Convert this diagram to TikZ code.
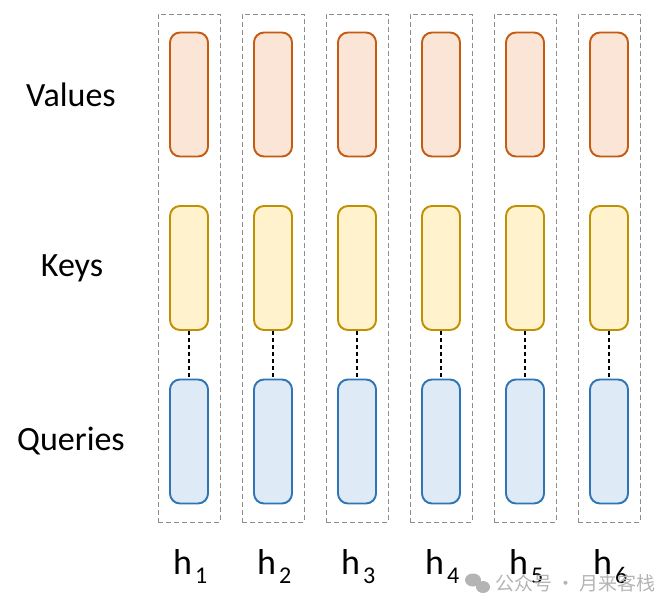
\documentclass[tikz,border=0pt]{standalone}
\usepackage{fontspec}
\setmainfont{Carlito}
\newfontfamily\cjk{Noto Sans CJK SC}
\definecolor{vfill}{HTML}{FBE5D6}
\definecolor{vdraw}{HTML}{C55A11}
\definecolor{kfill}{HTML}{FFF2CC}
\definecolor{kdraw}{HTML}{BF9000}
\definecolor{qfill}{HTML}{DEEBF7}
\definecolor{qdraw}{HTML}{2E75B6}
\definecolor{frame}{HTML}{8C8C8C}
\definecolor{wm}{HTML}{B4B4B4}
\tikzset{
  cell/.style={rectangle, rounded corners=10pt, minimum width=38pt, minimum height=124pt, line width=1.9pt, inner sep=0pt},
  vcell/.style={cell, fill=vfill, draw=vdraw},
  kcell/.style={cell, fill=kfill, draw=kdraw},
  qcell/.style={cell, fill=qfill, draw=qdraw},
  headbox/.style={rectangle, draw=frame, dashed, dash pattern=on 5pt off 3pt, line width=0.9pt, minimum width=62pt, minimum height=508pt, inner sep=0pt},
  rowlabel/.style={font=\fontsize{34}{38}\selectfont},
  hlabel/.style={font=\fontsize{36}{40}\selectfont, inner sep=0pt, anchor=base west},
  sublabel/.style={font=\fontsize{24}{28}\selectfont, inner sep=0pt, anchor=base west},
  link/.style={draw=black, dashed, dash pattern=on 4pt off 3pt, line width=1.3pt}
}
\begin{document}
\begin{tikzpicture}[x=1pt,y=-1pt]
\useasboundingbox (0,0) rectangle (667,609);
\foreach \i in {1,...,6} {
  \pgfmathsetmacro{\cx}{189+84*(\i-1)}
  \node[headbox] (box\i) at (\cx,268) {};
  \node[vcell] (v\i) at (\cx,94.5) {};
  \node[kcell] (k\i) at (\cx,268) {};
  \node[qcell] (q\i) at (\cx,441.5) {};
  \draw[link] (k\i.south) -- (q\i.north);
  \pgfmathsetmacro{\hx}{173+84*(\i-1)}
  \node[hlabel] (h\i) at (\hx,574) {h};
  \node[sublabel] (s\i) at (\hx+22,583) {\i};
}
\node[rowlabel] (lv) at (71,95) {Values};
\node[rowlabel] (lk) at (72,268) {Keys};
\node[rowlabel] (lq) at (71,441) {Queries};
% watermark
\fill[wm] (473,580) ellipse (8pt and 6.5pt);
\fill[wm] (483,587) ellipse (7pt and 6pt);
\node[wm, font=\cjk\fontsize{19}{22}\selectfont, anchor=west, inner sep=0pt] (wmark) at (495,583) {公众号 · 月来客栈};
\end{tikzpicture}
\end{document}
